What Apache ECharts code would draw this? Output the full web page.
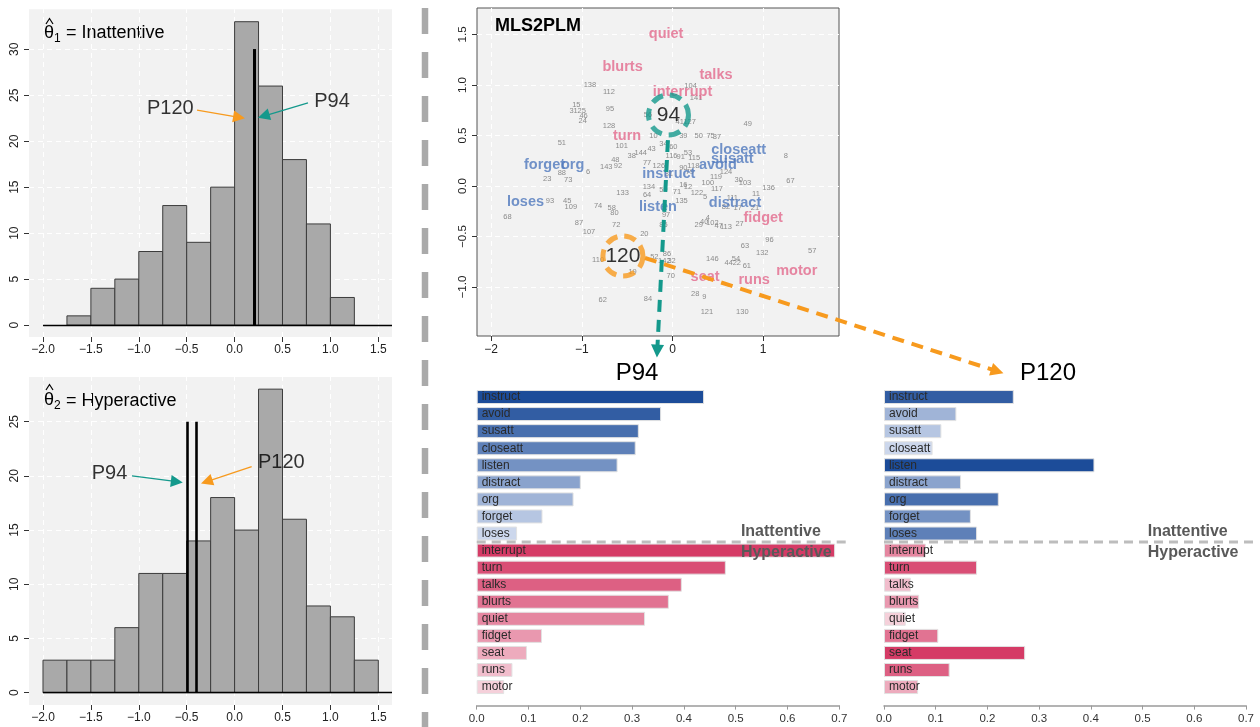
<!DOCTYPE html>
<html><head><meta charset="utf-8">
<script src="https://cdn.jsdelivr.net/npm/echarts@6/dist/echarts.min.js"></script>
<style>html,body{margin:0;padding:0;background:#fff}#c{width:1260px;height:727px}</style>
</head><body><div id="c"></div>
<script>
const FONT = '"Liberation Sans", Arial, Helvetica, sans-serif';
const TEAL = '#14998c', ORANGE = '#f79a1e', PINK = '#e2698c', BLUE = '#4f78bd';

// ---------- histogram data ----------
const histBreaks = [-2.0,-1.75,-1.5,-1.25,-1.0,-0.75,-0.5,-0.25,0.0,0.25,0.5,0.75,1.0,1.25,1.5];
const countsInattentive = [0,1,4,5,8,13,9,15,33,26,18,11,3,0];
const countsHyperactive = [3,3,3,6,11,11,14,18,15,28,16,8,7,3];
const histXTicks = [-2.0,-1.5,-1.0,-0.5,0.0,0.5,1.0,1.5];
const histYTicksTop = [0,5,10,15,20,25,30];
const histYTicksBottom = [0,5,10,15,20,25];
const thetaP94 = [0.2, -0.49];     // [inattentive, hyperactive]
const thetaP120 = [0.2, -0.40];
const markerHeight = [30, 25];
// annotation arrows [tail, head] in data units
const arrowsTopP120 = [[-0.392, 23.37], [0.047, 22.6]];
const arrowsTopP94 = [[0.766, 24.18], [0.304, 22.74]];
const arrowsBotP94 = [[-1.071, 19.99], [-0.603, 19.46]];
const arrowsBotP120 = [[0.178, 20.85], [-0.291, 19.48]];
const labelsTop = [['P120', -0.671, 23.56], ['P94', 1.017, 24.27]];
const labelsBottom = [['P94', -1.306, 20.24], ['P120', 0.488, 21.22]];

// ---------- scatter (MLS2PLM) data ----------
const respondents = [
['138',-0.91,1.00],['112',-0.70,0.93],['15',-1.06,0.80],['31',-1.09,0.74],['25',-1.00,0.74],['46',-0.98,0.69],
['24',-0.99,0.64],['95',-0.69,0.76],['128',-0.70,0.59],['51',-1.22,0.43],['101',-0.56,0.40],['10',-0.21,0.50],
['34',-0.10,0.42],['43',-0.23,0.37],['60',0.01,0.39],['38',-0.45,0.30],['144',-0.35,0.33],['48',-0.63,0.26],
['143',-0.73,0.19],['92',-0.60,0.20],['77',-0.28,0.23],['6',-0.93,0.14],['88',-1.22,0.13],['23',-1.38,0.07],
['73',-1.15,0.06],['133',-0.55,-0.07],['134',-0.26,-0.01],['64',-0.28,-0.09],['93',-1.35,-0.15],['45',-1.16,-0.15],
['109',-1.12,-0.21],['74',-0.82,-0.20],['58',-0.67,-0.22],['80',-0.64,-0.27],['68',-1.82,-0.31],['87',-1.03,-0.37],
['107',-0.92,-0.45],['72',-0.62,-0.39],['20',-0.31,-0.47],['110',-0.82,-0.73],['19',-0.44,-0.85],['52',-0.20,-0.70],
['62',-0.77,-1.13],['84',-0.27,-1.12],['85',-0.10,-0.39],['97',-0.07,-0.29],['119',0.48,0.09],['124',0.59,0.14],
['100',0.39,0.03],['117',0.49,-0.03],['30',0.73,0.06],['103',0.80,0.03],['67',1.30,0.05],['136',1.06,-0.02],
['11',0.92,-0.08],['16',0.12,0.01],['12',0.17,-0.01],['71',0.05,-0.06],['122',0.27,-0.07],['5',0.36,-0.11],
['135',0.10,-0.15],['111',0.66,-0.12],['82',0.59,-0.21],['17',0.72,-0.22],['21',0.91,-0.22],['4',0.39,-0.32],
['29',0.29,-0.39],['40',0.35,-0.36],['102',0.44,-0.37],['47',0.51,-0.40],['27',0.74,-0.38],['113',0.59,-0.41],
['96',1.07,-0.53],['63',0.80,-0.59],['132',0.99,-0.66],['57',1.54,-0.64],['86',-0.06,-0.67],['142',-0.09,-0.74],
['32',-0.01,-0.74],['146',0.44,-0.72],['44',0.62,-0.76],['22',0.71,-0.76],['54',0.70,-0.72],['61',0.82,-0.79],
['70',-0.02,-0.89],['28',0.25,-1.07],['9',0.35,-1.10],['121',0.38,-1.25],['130',0.77,-1.25],['104',0.20,0.99],
['141',0.26,0.87],['56',-0.27,0.70],['41',0.08,0.63],['127',0.19,0.63],['49',0.83,0.61],['50',0.29,0.50],
['75',0.42,0.50],['37',0.49,0.49],['39',0.12,0.50],['116',-0.01,0.30],['91',0.09,0.29],['53',0.17,0.33],
['115',0.24,0.28],['90',0.12,0.18],['118',0.23,0.20],['79',0.19,0.14],['126',-0.15,0.20],['8',1.25,0.30],
['81',-0.04,0.12],['59',-0.10,-0.04]
];
const itemWords = ['quiet','blurts','talks','interrupt','turn','fidget','motor','runs','seat',
                   'forget','org','closeatt','susatt','avoid','instruct','listen','loses','distract'];
const itemScale = ['H','H','H','H','H','H','H','H','H','I','I','I','I','I','I','I','I','I'];
const itemWordX = [-0.07,-0.55,0.48,0.11,-0.50,1.00,1.37,0.90,0.36,-1.41,-1.10,0.73,0.66,0.50,-0.04,-0.16,-1.62,0.69];
const itemWordY = [1.50,1.18,1.10,0.93,0.49,-0.32,-0.84,-0.93,-0.90,0.21,0.21,0.36,0.27,0.21,0.12,-0.21,-0.16,-0.17];
const focusP94 = [-0.044, 0.703];
const focusP120 = [-0.546, -0.693];
const linkP94 = [[-0.05, 0.455], [-0.168, -1.634]];
const linkP120 = [[-0.303, -0.713], [3.581, -1.834]];
const scatterXTicks = [-2, -1, 0, 1];
const scatterYTicks = [-1.0, -0.5, 0.0, 0.5, 1.0, 1.5];

// ---------- bar data ----------
const barItems = ['instruct','avoid','susatt','closeatt','listen','distract','org','forget','loses',
                  'interrupt','turn','talks','blurts','quiet','fidget','seat','runs','motor'];
const barGroup = [0,0,0,0,0,0,0,0,0,1,1,1,1,1,1,1,1,1];
const valsP94 = [0.439,0.356,0.313,0.307,0.272,0.201,0.187,0.127,0.078,0.692,0.481,0.396,0.371,0.325,0.126,0.097,0.069,0.053];
const valsP120 = [0.251,0.140,0.111,0.094,0.407,0.149,0.222,0.168,0.180,0.081,0.180,0.052,0.068,0.042,0.105,0.273,0.127,0.066];
const barXTicks = [0,0.1,0.2,0.3,0.4,0.5,0.6,0.7];
const groupNames = ['Inattentive', 'Hyperactive'];

// ---------- axis extents ----------
const HX = [-2.146, 1.643];
const HY1 = [-1.30, 34.35];
const HY2 = [-1.135, 29.12];
const SX = [-2.155, 1.836];
const SY = [-1.485, 1.762];

// ---------- helpers ----------
const minus = s => s.replace('-', '\u2212');
function rankColors(vals){
  return vals.map((v,i)=>{
    const g = barGroup[i];
    const same = vals.filter((w,j)=>barGroup[j]===g);
    const rank = same.filter(w=>w>v).length;
    const t = rank/(same.length-1);
    const d = g===0 ? [28,76,153] : [213,59,102];
    const l = g===0 ? [204,215,236] : [245,208,218];
    return 'rgb(' + d.map((c,k)=>Math.round(c+(l[k]-c)*t)).join(',') + ')';
  });
}
function linesSeries(gi, coordsList, color, width, dash, symbol, symbolSize, z){
  return {type:'lines', coordinateSystem:'cartesian2d', xAxisIndex:gi, yAxisIndex:gi, clip:false, silent:true, z,
    symbol, symbolSize, lineStyle:{color, width, type:dash, opacity:1},
    data: coordsList.map(c=>({coords:c}))};
}
function gridLines(gi, xs, ys, xr, yr){
  const segs = xs.map(v=>[[v, yr[0]],[v, yr[1]]]).concat(ys.map(v=>[[xr[0], v],[xr[1], v]]));
  return linesSeries(gi, segs, '#ffffff', 1, [5,4], 'none', 0, 1);
}
function histSeries(gi, counts){
  const data = counts.map((c,i)=>[histBreaks[i], histBreaks[i+1], c]);
  return {type:'custom', xAxisIndex:gi, yAxisIndex:gi, z:2, silent:true, data, encode:{x:[0,1], y:2},
    renderItem(params, api){
      const c = api.value(2); if (!c) return null;
      const p0 = api.coord([api.value(0), 0]), p1 = api.coord([api.value(1), c]);
      return {type:'rect', shape:{x:p0[0], y:p1[1], width:p1[0]-p0[0], height:p0[1]-p1[1]},
              style:{fill:'#a9a9a9', stroke:'#3c3c3c', lineWidth:1}};
    }};
}
function textSeries(gi, items, label, z){
  return {type:'scatter', xAxisIndex:gi, yAxisIndex:gi, symbol:'circle', symbolSize:1, silent:true, z,
    itemStyle:{color:'rgba(0,0,0,0)', borderWidth:0},
    label:Object.assign({show:true, position:'inside', formatter:'{b}', fontFamily:FONT}, label),
    data: items.map(([n,x,y])=>({name:n, value:[x,y]}))};
}
function histAxes(gi, yr, yTicks){
  return {
    x:{gridIndex:gi, type:'value', min:HX[0], max:HX[1], position:'bottom',
       axisLine:{show:false, onZero:false}, splitLine:{show:false},
       axisTick:{show:true, customValues:histXTicks, length:5, lineStyle:{color:'#333'}},
       axisLabel:{customValues:histXTicks, formatter:v=>minus(v.toFixed(1)), margin:7, fontSize:12, color:'#222', fontFamily:FONT}},
    y:{gridIndex:gi, type:'value', min:yr[0], max:yr[1], position:'left',
       axisLine:{show:false, onZero:false}, splitLine:{show:false},
       axisTick:{show:true, customValues:yTicks, length:5, lineStyle:{color:'#333'}},
       axisLabel:{customValues:yTicks, rotate:90, margin:8, fontSize:12, color:'#222', fontFamily:FONT}}
  };
}
function barSeries(gi, vals){
  const cols = rankColors(vals);
  return {type:'bar', xAxisIndex:gi, yAxisIndex:gi, barWidth:14, silent:true, z:2,
    itemStyle:{borderColor:'#e2e2e2', borderWidth:1},
    label:{show:true, position:'insideLeft', distance:5, formatter:'{b}', color:'#2a2a2a', fontSize:12, fontFamily:FONT},
    data: vals.map((v,i)=>({value:v, itemStyle:{color:cols[i]}}))};
}
function separatorSeries(gi){
  return {type:'custom', xAxisIndex:gi, yAxisIndex:gi, z:6, silent:true, data:[[0,0]],
    renderItem(params, api){
      const cs = params.coordSys;
      const y = (api.coord([0, 8])[1] + api.coord([0, 9])[1]) / 2;
      const x0 = api.coord([0, 0])[0];
      const xt = api.coord([0.51, 0])[0];
      const ts = t => ({text:t, fontSize:16, fontWeight:'bold', fontFamily:FONT, fill:'#595959', align:'left', verticalAlign:'middle'});
      return {type:'group', children:[
        {type:'line', shape:{x1:x0, y1:y, x2:cs.x+cs.width+10, y2:y}, style:{stroke:'#bdbdbd', lineWidth:3, lineDash:[9,6]}},
        {type:'text', x:xt, y:y-10, style:ts(groupNames[0])},
        {type:'text', x:xt, y:y+11, style:ts(groupNames[1])}
      ]};
    }};
}
function barAxes(gi){
  return {
    x:{gridIndex:gi, type:'value', min:0, max:0.7, interval:0.1, offset:10, position:'bottom',
       axisLine:{show:true, onZero:false, lineStyle:{color:'#9a9a9a', width:1.5}}, splitLine:{show:false},
       axisTick:{show:true, length:4, lineStyle:{color:'#9a9a9a'}},
       axisLabel:{customValues:barXTicks, formatter:v=>v.toFixed(1), margin:7, fontSize:11.5, color:'#333', fontFamily:FONT}},
    y:{gridIndex:gi, type:'category', data:barItems, inverse:true, show:false}
  };
}

const hA = histAxes(0, HY1, histYTicksTop);
const hB = histAxes(1, HY2, histYTicksBottom);
const bA = barAxes(3), bB = barAxes(4);
const sX = {gridIndex:2, type:'value', min:SX[0], max:SX[1], position:'bottom', axisLine:{show:false, onZero:false}, splitLine:{show:false},
  axisTick:{show:true, customValues:scatterXTicks, length:5, lineStyle:{color:'#333'}},
  axisLabel:{customValues:scatterXTicks, formatter:v=>minus(String(v)), margin:8, fontSize:12, color:'#222', fontFamily:FONT}};
const sY = {gridIndex:2, type:'value', min:SY[0], max:SY[1], position:'left', axisLine:{show:false, onZero:false}, splitLine:{show:false},
  axisTick:{show:true, customValues:scatterYTicks, length:5, lineStyle:{color:'#333'}},
  axisLabel:{customValues:scatterYTicks, rotate:90, formatter:v=>minus(v.toFixed(1)), margin:8, fontSize:11.5, color:'#222', fontFamily:FONT}};

const words = itemWords.map((w,i)=>[w, itemWordX[i], itemWordY[i]]);

const option = {
  animation:false,
  backgroundColor:'#ffffff',
  grid:[
    {left:29, top:9.3, width:363, height:327.7, show:true, backgroundColor:'#f2f2f2', borderWidth:0},
    {left:29, top:377, width:363, height:328, show:true, backgroundColor:'#f2f2f2', borderWidth:0},
    {left:477, top:8, width:362, height:328, show:true, backgroundColor:'#f2f2f2', borderColor:'#555', borderWidth:1},
    {left:476.7, top:388.5, width:362.6, height:307.1},
    {left:884, top:388.5, width:362, height:307.1}
  ],
  xAxis:[hA.x, hB.x, sX, bA.x, bB.x],
  yAxis:[hA.y, hB.y, sY, bA.y, bB.y],
  series:[
    // top histogram
    gridLines(0, histXTicks, histYTicksTop.slice(1), HX, HY1),
    histSeries(0, countsInattentive),
    linesSeries(0, [[[histBreaks[0],0],[HX[1],0]]], '#000', 1.3, 'solid', 'none', 0, 3),
    linesSeries(0, [[[thetaP94[0],0],[thetaP94[0],markerHeight[0]]],[[thetaP120[0],0],[thetaP120[0],markerHeight[0]]]], '#000', 3, 'solid', 'none', 0, 3),
    linesSeries(0, [arrowsTopP120], ORANGE, 1.3, 'solid', ['none','triangle'], 12, 4),
    linesSeries(0, [arrowsTopP94], TEAL, 1.3, 'solid', ['none','triangle'], 12, 4),
    textSeries(0, labelsTop, {fontSize:20, color:'#000'}, 5),
    // bottom histogram
    gridLines(1, histXTicks, histYTicksBottom.slice(1), HX, HY2),
    histSeries(1, countsHyperactive),
    linesSeries(1, [[[histBreaks[0],0],[HX[1],0]]], '#000', 1.3, 'solid', 'none', 0, 3),
    linesSeries(1, [[[thetaP94[1],0],[thetaP94[1],markerHeight[1]]],[[thetaP120[1],0],[thetaP120[1],markerHeight[1]]]], '#000', 2.6, 'solid', 'none', 0, 3),
    linesSeries(1, [arrowsBotP94], TEAL, 1.3, 'solid', ['none','triangle'], 12, 4),
    linesSeries(1, [arrowsBotP120], ORANGE, 1.3, 'solid', ['none','triangle'], 12, 4),
    textSeries(1, labelsBottom, {fontSize:20, color:'#000'}, 5),
    // scatter
    gridLines(2, scatterXTicks, scatterYTicks, SX, SY),
    textSeries(2, respondents, {fontSize:7.5, color:'#707070'}, 3),
    textSeries(2, words.filter((w,i)=>itemScale[i]==='H'), {fontSize:14.5, fontWeight:'bold', color:PINK}, 4),
    textSeries(2, words.filter((w,i)=>itemScale[i]==='I'), {fontSize:14.5, fontWeight:'bold', color:BLUE}, 4),
    {type:'scatter', xAxisIndex:2, yAxisIndex:2, z:6, silent:true, symbol:'circle', symbolSize:40,
      itemStyle:{color:'rgba(0,0,0,0)', borderColor:TEAL, borderWidth:5, borderType:[12,7]},
      label:{show:true, position:'inside', formatter:'{b}', fontSize:21, color:'#000', fontFamily:FONT},
      data:[{name:'94', value:focusP94}]},
    {type:'scatter', xAxisIndex:2, yAxisIndex:2, z:6, silent:true, symbol:'circle', symbolSize:40,
      itemStyle:{color:'rgba(0,0,0,0)', borderColor:ORANGE, borderWidth:5, borderType:[12,7]},
      label:{show:true, position:'inside', formatter:'{b}', fontSize:21, color:'#000', fontFamily:FONT},
      data:[{name:'120', value:focusP120}]},
    linesSeries(2, [linkP94], TEAL, 4, [12,8], ['none','triangle'], 13, 7),
    linesSeries(2, [linkP120], ORANGE, 4, [12,8], ['none','triangle'], 13, 7),
    // bars
    barSeries(3, valsP94),
    separatorSeries(3),
    barSeries(4, valsP120),
    separatorSeries(4)
  ],
  graphic:[
    {type:'line', silent:true, shape:{x1:425, y1:8, x2:425, y2:727}, style:{stroke:'#aaaaaa', lineWidth:6.5, lineDash:[26,18]}},
    // theta hat titles
    {type:'polyline', silent:true, shape:{points:[[46,24],[49.5,18.5],[53,24]]}, style:{stroke:'#000', lineWidth:1.2, fill:null}},
    {type:'text', silent:true, x:44, y:33.5, style:{text:'θ', fontSize:18, fontFamily:FONT, fill:'#000', verticalAlign:'middle'}},
    {type:'text', silent:true, x:54, y:38.5, style:{text:'1', fontSize:12, fontFamily:FONT, fill:'#000', verticalAlign:'middle'}},
    {type:'text', silent:true, x:66, y:33, style:{text:'= Inattentive', fontSize:18, fontFamily:FONT, fill:'#000', verticalAlign:'middle'}},
    {type:'polyline', silent:true, shape:{points:[[46,390],[49.5,384.5],[53,390]]}, style:{stroke:'#000', lineWidth:1.2, fill:null}},
    {type:'text', silent:true, x:44, y:400, style:{text:'θ', fontSize:18, fontFamily:FONT, fill:'#000', verticalAlign:'middle'}},
    {type:'text', silent:true, x:54, y:405.5, style:{text:'2', fontSize:12, fontFamily:FONT, fill:'#000', verticalAlign:'middle'}},
    {type:'text', silent:true, x:66, y:401.5, style:{text:'= Hyperactive', fontSize:18, fontFamily:FONT, fill:'#000', verticalAlign:'middle'}},
    {type:'text', silent:true, x:495, y:26, style:{text:'MLS2PLM', fontSize:18, fontWeight:'bold', fontFamily:FONT, fill:'#000', verticalAlign:'middle'}},
    {type:'text', silent:true, x:637, y:373, style:{text:'P94', fontSize:24, fontFamily:FONT, fill:'#000', align:'center', verticalAlign:'middle'}},
    {type:'text', silent:true, x:1048, y:373, style:{text:'P120', fontSize:24, fontFamily:FONT, fill:'#000', align:'center', verticalAlign:'middle'}}
  ]
};
const chart = echarts.init(document.getElementById('c'), null, {renderer:'canvas'});
chart.setOption(option);
</script></body></html>
